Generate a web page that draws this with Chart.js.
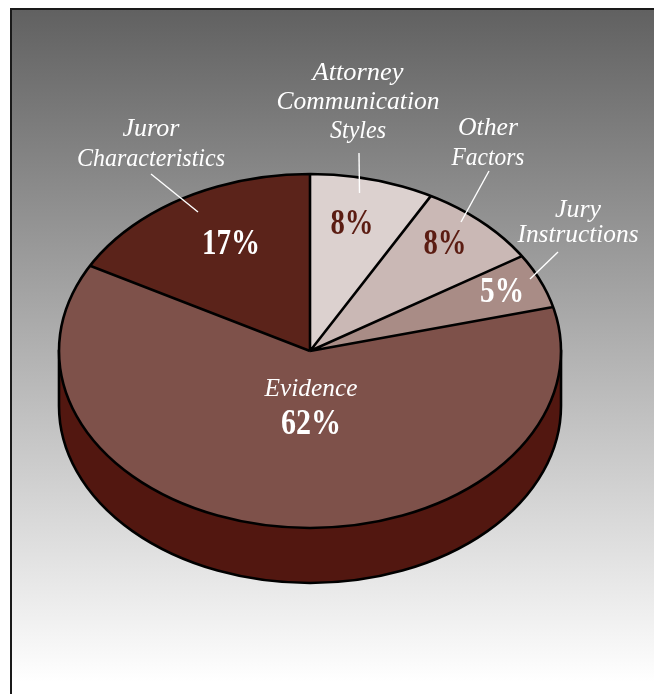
<!DOCTYPE html>
<html>
<head>
<meta charset="utf-8">
<title>Juror decision factors</title>
<script src="https://cdn.jsdelivr.net/npm/chart.js@4"></script>
<style>
  html, body { margin: 0; padding: 0; background: #fff; overflow: hidden; }
  #frame {
    position: absolute; left: 10px; top: 8px; width: 644px; height: 686px;
    box-sizing: border-box;
    border-left: 2px solid #1a1a1a; border-top: 2px solid #1a1a1a;
    background: linear-gradient(#616161 0, #ffffff 672px);
  }
  #pie { position: absolute; left: 0; top: 0; }
</style>
</head>
<body>
<div id="frame"></div>
<canvas id="pie" width="654" height="694"></canvas>
<script>
// 슬라이스 데이터 (12시 방향부터 시계 방향)
const categories = ['Attorney Communication Styles', 'Other Factors', 'Jury Instructions', 'Evidence', 'Juror Characteristics'];
const shares = [8, 8, 5, 62, 17];
const sliceColors = ['#dcd1cf', '#cab8b5', '#a98c86', '#7e514a', '#5b231a'];

// 라벨 배치 (w: 글자 폭)
const nameLabels = [
  { lines: ['Attorney', 'Communication', 'Styles'], x: [358, 358, 358], y: [80, 109, 138], w: [91, 163, 56] },
  { lines: ['Other', 'Factors'], x: [488, 488], y: [135, 165], w: [60, 73] },
  { lines: ['Jury', 'Instructions'], x: [578, 578], y: [217, 242], w: [46, 121] },
  { lines: ['Evidence'], x: [311], y: [396], w: [93] },
  { lines: ['Juror', 'Characteristics'], x: [151, 151], y: [136, 166], w: [57, 148] },
];
const shareLabels = [
  { x: 352, y: 234, w: 43, color: '#5b1c12' },
  { x: 445, y: 254, w: 43, color: '#5b1c12' },
  { x: 502, y: 302, w: 44, color: '#ffffff' },
  { x: 311, y: 434, w: 60, color: '#ffffff' },
  { x: 231, y: 254, w: 58, color: '#ffffff' },
];
const leaders = [
  [359, 153, 359.5, 193],
  [489, 171, 461, 222],
  [558, 252, 530, 279],
  [151, 174, 198, 212],
];

const radiusX = 251;
const tilt = 177 / 251;
const depth = 55;
const outline = 2.6;

// 가로 폭을 맞춰 글자 출력
function drawFitted(ctx, text, x, y, width) {
  const scale = width / ctx.measureText(text).width;
  ctx.save();
  ctx.translate(x, y);
  ctx.scale(scale, 1);
  ctx.fillText(text, 0, 0);
  ctx.restore();
}

// 파이를 납작하게 눌러 그리고 옆면과 테두리를 추가
const tiltedPie = {
  id: 'tiltedPie',
  beforeDatasetsDraw(chart) {
    const { ctx } = chart;
    const arc = chart.getDatasetMeta(0).data[0];
    const { x, y } = arc.getProps(['x', 'y']);
    const ry = radiusX * tilt;
    // 옆면
    ctx.save();
    ctx.beginPath();
    ctx.moveTo(x - radiusX, y);
    ctx.lineTo(x - radiusX, y + depth);
    ctx.ellipse(x, y + depth, radiusX, ry, 0, Math.PI, 0, true);
    ctx.lineTo(x + radiusX, y);
    ctx.closePath();
    ctx.fillStyle = '#521710';
    ctx.fill();
    ctx.lineWidth = outline;
    ctx.strokeStyle = '#000';
    ctx.stroke();
    ctx.restore();
    // 윗면 눌러 그리기
    ctx.save();
    ctx.translate(x, y);
    ctx.scale(1, tilt);
    ctx.translate(-x, -y);
  },
  afterDatasetsDraw(chart) {
    const { ctx } = chart;
    ctx.restore();
    const arcs = chart.getDatasetMeta(0).data;
    const { x, y } = arcs[0].getProps(['x', 'y']);
    const ry = radiusX * tilt;
    ctx.save();
    ctx.strokeStyle = '#000';
    ctx.lineWidth = outline;
    ctx.lineJoin = 'round';
    ctx.beginPath();
    ctx.ellipse(x, y, radiusX, ry, 0, 0, Math.PI * 2);
    arcs.forEach(a => {
      const { startAngle } = a.getProps(['startAngle']);
      ctx.moveTo(x, y);
      ctx.lineTo(x + radiusX * Math.cos(startAngle), y + ry * Math.sin(startAngle));
    });
    ctx.stroke();
    ctx.restore();
  },
  afterDraw(chart) {
    const { ctx } = chart;
    ctx.save();
    ctx.strokeStyle = '#fff';
    ctx.lineWidth = 1.4;
    leaders.forEach(l => {
      ctx.beginPath();
      ctx.moveTo(l[0], l[1]);
      ctx.lineTo(l[2], l[3]);
      ctx.stroke();
    });
    ctx.textAlign = 'center';
    ctx.fillStyle = '#fff';
    ctx.font = 'italic 26px "Liberation Serif"';
    nameLabels.forEach(label => {
      label.lines.forEach((line, i) => drawFitted(ctx, line, label.x[i], label.y[i], label.w[i]));
    });
    ctx.font = 'bold 35px "Liberation Serif"';
    shareLabels.forEach((label, i) => {
      ctx.fillStyle = label.color;
      drawFitted(ctx, shares[i] + '%', label.x, label.y, label.w);
    });
    ctx.restore();
  },
};

new Chart(document.getElementById('pie').getContext('2d'), {
  type: 'pie',
  data: {
    labels: categories,
    datasets: [{
      data: shares,
      backgroundColor: sliceColors,
      borderWidth: 0,
      radius: radiusX,
    }],
  },
  options: {
    responsive: false,
    animation: false,
    layout: { padding: { right: 34, top: 8 } },
    plugins: { legend: { display: false }, tooltip: { enabled: false } },
  },
  plugins: [tiltedPie],
});
</script>
</body>
</html>
